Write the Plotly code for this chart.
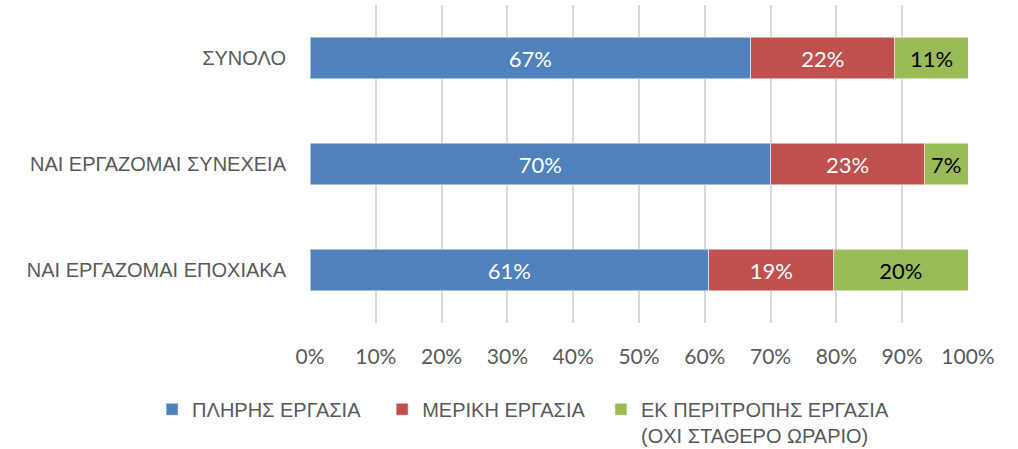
import plotly.graph_objects as go

categories = ["ΣΥΝΟΛΟ", "ΝΑΙ ΕΡΓΑΖΟΜΑΙ ΣΥΝΕΧΕΙΑ", "ΝΑΙ ΕΡΓΑΖΟΜΑΙ ΕΠΟΧΙΑΚΑ"]
full_time = [67.0, 70.0, 60.6]
part_time = [21.9, 23.4, 19.0]
rotation = [11.1, 6.6, 20.4]
series_names = [
    "ΠΛΗΡΗΣ ΕΡΓΑΣΙΑ",
    "ΜΕΡΙΚΗ ΕΡΓΑΣΙΑ",
    "ΕΚ ΠΕΡΙΤΡΟΠΗΣ ΕΡΓΑΣΙΑ<br>(ΟΧΙ ΣΤΑΘΕΡΟ ΩΡΑΡΙΟ)",
]
x_ticks = list(range(0, 101, 10))

GREEK_FONT = "Liberation Sans Narrow, Arial Narrow, sans-serif"
NUM_FONT = "Lato, Open Sans, sans-serif"
colours = ["#4F81BD", "#C0504D", "#9BBB59"]
text_colours = ["white", "white", "black"]
# extra spacing after legend entries (non-breaking spaces)
legend_pad = [3, 2, 0]

fig = go.Figure()
for name, vals, col, tcol, pad in zip(series_names, [full_time, part_time, rotation],
                                      colours, text_colours, legend_pad):
    fig.add_trace(go.Bar(
        y=categories,
        x=vals,
        orientation="h",
        name=name + "\u00a0" * pad,
        marker=dict(color=col, line=dict(color="white", width=0.5)),
        text=[f"{v:.0f}%" for v in vals],
        textposition="inside",
        insidetextanchor="middle",
        textangle=0,
        textfont=dict(family=NUM_FONT, size=22, color=tcol),
    ))

fig.update_layout(
    barmode="stack",
    bargap=0.61,
    width=1018,
    height=449,
    margin=dict(l=310, r=50, t=5, b=126, autoexpand=False),
    paper_bgcolor="white",
    plot_bgcolor="white",
    font=dict(family=GREEK_FONT, size=20, color="#595959"),
    uniformtext=dict(mode="show", minsize=8),
    xaxis=dict(
        range=[0, 100],
        tickvals=x_ticks,
        ticktext=[f"{t}%" for t in x_ticks],
        showgrid=True,
        gridcolor="#D9D9D9",
        gridwidth=1.5,
        zeroline=False,
        showline=False,
        ticks="",
        ticklabelstandoff=19,
        tickfont=dict(family=NUM_FONT, size=21, color="#595959"),
        fixedrange=True,
    ),
    yaxis=dict(
        categoryorder="array",
        categoryarray=categories[::-1],
        showgrid=False,
        showline=False,
        ticks="",
        ticklabelstandoff=23,
        tickfont=dict(family=GREEK_FONT, size=20, color="#595959"),
        fixedrange=True,
    ),
    legend=dict(
        orientation="h",
        x=-0.24,
        xanchor="left",
        y=-0.21,
        yanchor="top",
        traceorder="normal",
        font=dict(family=GREEK_FONT, size=20, color="#595959"),
        itemwidth=30,
        valign="top",
    ),
    showlegend=True,
)

fig.write_html(
    "out.html",
    config={"displayModeBar": False},
    post_script="document.body.style.margin='0';",
)
